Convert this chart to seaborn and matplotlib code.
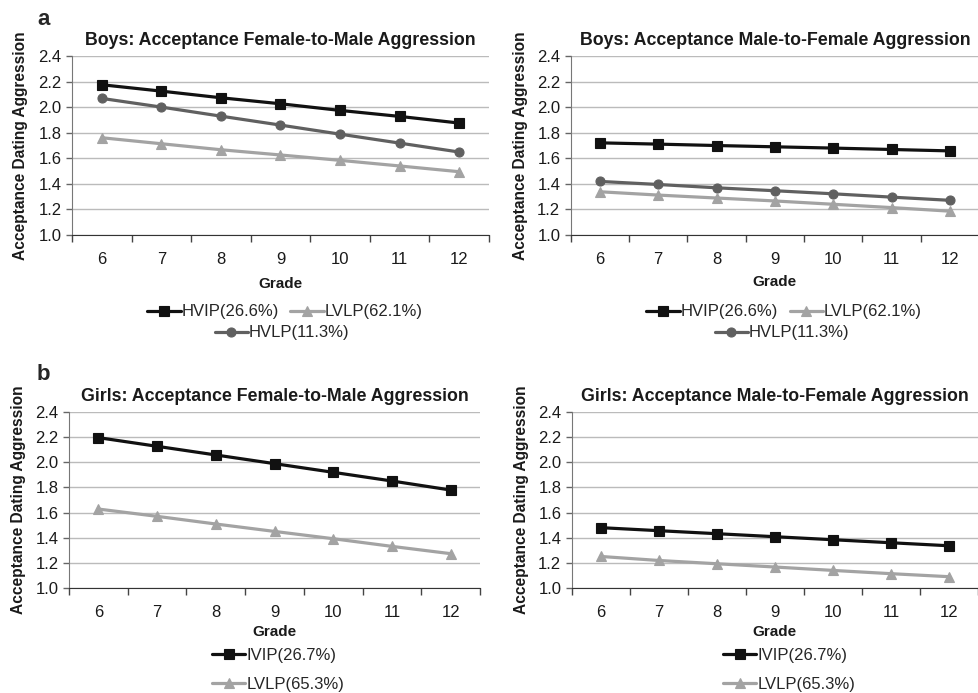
import numpy as np
import matplotlib
matplotlib.use("Agg")
import matplotlib.pyplot as plt
from matplotlib.ticker import FormatStrFormatter
import seaborn as sns

# --- dados ---
grades = ["6", "7", "8", "9", "10", "11", "12"]

boys_fm_hvip = [2.176, 2.126, 2.074, 2.027, 1.975, 1.928, 1.876]
boys_fm_hvlp = [2.069, 2.001, 1.930, 1.860, 1.789, 1.719, 1.649]
boys_fm_lvlp = [1.761, 1.714, 1.667, 1.626, 1.584, 1.540, 1.495]

boys_mf_hvip = [1.721, 1.711, 1.700, 1.690, 1.680, 1.669, 1.658]
boys_mf_hvlp = [1.419, 1.395, 1.369, 1.346, 1.322, 1.296, 1.271]
boys_mf_lvlp = [1.338, 1.312, 1.289, 1.266, 1.240, 1.214, 1.186]

girls_fm_ivip = [2.196, 2.127, 2.058, 1.989, 1.920, 1.851, 1.779]
girls_fm_lvlp = [1.628, 1.570, 1.509, 1.450, 1.392, 1.331, 1.273]

girls_mf_ivip = [1.480, 1.456, 1.432, 1.408, 1.384, 1.360, 1.336]
girls_mf_lvlp = [1.251, 1.219, 1.193, 1.167, 1.140, 1.114, 1.090]

boys_labels = ["HVIP(26.6%)", "LVLP(62.1%)", "HVLP(11.3%)"]
girls_labels = ["IVIP(26.7%)", "LVLP(65.3%)"]

titles = ["Boys: Acceptance Female-to-Male Aggression",
          "Boys: Acceptance Male-to-Female Aggression",
          "Girls: Acceptance Female-to-Male Aggression",
          "Girls: Acceptance Male-to-Female Aggression"]

# estilos
BLACK = "#111111"
DARK = "#606060"
LIGHT = "#a3a3a3"
styles = {
    "HVIP": (BLACK, "s", 7),
    "IVIP": (BLACK, "s", 7),
    "HVLP": (DARK, "o", 6.5),
    "LVLP": (LIGHT, "^", 6.5),
}

sns.set_style("white")
plt.rcParams["font.family"] = ["Liberation Sans", "DejaVu Sans"]

fig = plt.figure(figsize=(9.79, 6.93), dpi=100)

# posições dos eixos (fração da figura)
pos = [
    [0.0735, 0.661, 0.426, 0.258],
    [0.583, 0.661, 0.417, 0.258],
    [0.0705, 0.1515, 0.420, 0.254],
    [0.584, 0.1515, 0.415, 0.254],
]
axes = [fig.add_axes(p) for p in pos]

TXT = "#1a1a1a"


def draw(ax, series, title):
    handles = []
    for key, vals in series:
        color, marker, ms = styles[key]
        sns.pointplot(x=grades, y=vals, color=color, markers=marker,
                      markersize=ms, linewidth=2.3, markeredgewidth=0.8,
                      errorbar=None, ax=ax)
        handles.append(ax.lines[-1])
    ax.set_ylim(1.0, 2.4)
    ax.set_yticks(np.arange(1.0, 2.41, 0.2))
    ax.yaxis.set_major_formatter(FormatStrFormatter("%.1f"))
    ax.yaxis.grid(True, color="#bbbbbb", linewidth=1)
    ax.set_axisbelow(True)
    ax.set_xlim(-0.5, 6.5)
    ax.set_xticks(np.arange(-0.5, 7, 1), minor=True)
    ax.tick_params(axis="x", which="major", length=0, pad=12, labelsize=12, colors=TXT)
    ax.tick_params(axis="x", which="minor", length=5, width=1, direction="out",
                   color="#444", bottom=True)
    ax.tick_params(axis="y", length=4, width=1, direction="out", color="#666",
                   left=True, labelsize=12, labelcolor=TXT)
    for s in ["top", "right"]:
        ax.spines[s].set_visible(False)
    ax.spines["left"].set_color("#777")
    ax.spines["bottom"].set_color("#333")
    ax.set_title(title, fontsize=12.8, fontweight="bold", pad=8, color=TXT)
    ax.set_ylabel("Acceptance Dating Aggression", fontsize=11.2, fontweight="bold", color=TXT)
    ax.yaxis.set_label_coords(-0.105, 0.5)
    ax.set_xlabel("Grade", fontsize=11, fontweight="bold", color=TXT)
    return handles


leg_kw = dict(frameon=False, fontsize=12, handlelength=2.0, handletextpad=0.05,
              borderpad=0, borderaxespad=0)

# painel a: meninos
h = draw(axes[0], [("HVIP", boys_fm_hvip), ("HVLP", boys_fm_hvlp), ("LVLP", boys_fm_lvlp)], titles[0])
axes[0].xaxis.set_label_coords(0.5, -0.235)
fig.legend([h[0], h[2]], boys_labels[:2], loc="center", ncol=2, columnspacing=0.7,
           bbox_to_anchor=(0.291, 0.5498), **leg_kw)
fig.legend([h[1]], boys_labels[2:], loc="center", bbox_to_anchor=(0.288, 0.5195), **leg_kw)

h = draw(axes[1], [("HVIP", boys_mf_hvip), ("HVLP", boys_mf_hvlp), ("LVLP", boys_mf_lvlp)], titles[1])
axes[1].xaxis.set_label_coords(0.5, -0.225)
fig.legend([h[0], h[2]], boys_labels[:2], loc="center", ncol=2, columnspacing=0.7,
           bbox_to_anchor=(0.801, 0.5498), **leg_kw)
fig.legend([h[1]], boys_labels[2:], loc="center", bbox_to_anchor=(0.799, 0.5195), **leg_kw)

# painel b: meninas
h = draw(axes[2], [("IVIP", girls_fm_ivip), ("LVLP", girls_fm_lvlp)], titles[2])
axes[2].xaxis.set_label_coords(0.5, -0.21)
fig.legend(h, girls_labels, loc="upper left", labelspacing=0.85,
           bbox_to_anchor=(212 / 979, 1 - 648 / 693), **leg_kw)

h = draw(axes[3], [("IVIP", girls_mf_ivip), ("LVLP", girls_mf_lvlp)], titles[3])
axes[3].xaxis.set_label_coords(0.5, -0.21)
fig.legend(h, girls_labels, loc="upper left", labelspacing=0.85,
           bbox_to_anchor=(723 / 979, 1 - 648 / 693), **leg_kw)

fig.text(37 / 979, 1 - 25 / 693, "a", fontsize=16, fontweight="bold", va="baseline")
fig.text(37 / 979, 1 - 380 / 693, "b", fontsize=16, fontweight="bold", va="baseline")

fig.savefig("out.png", dpi=100)
